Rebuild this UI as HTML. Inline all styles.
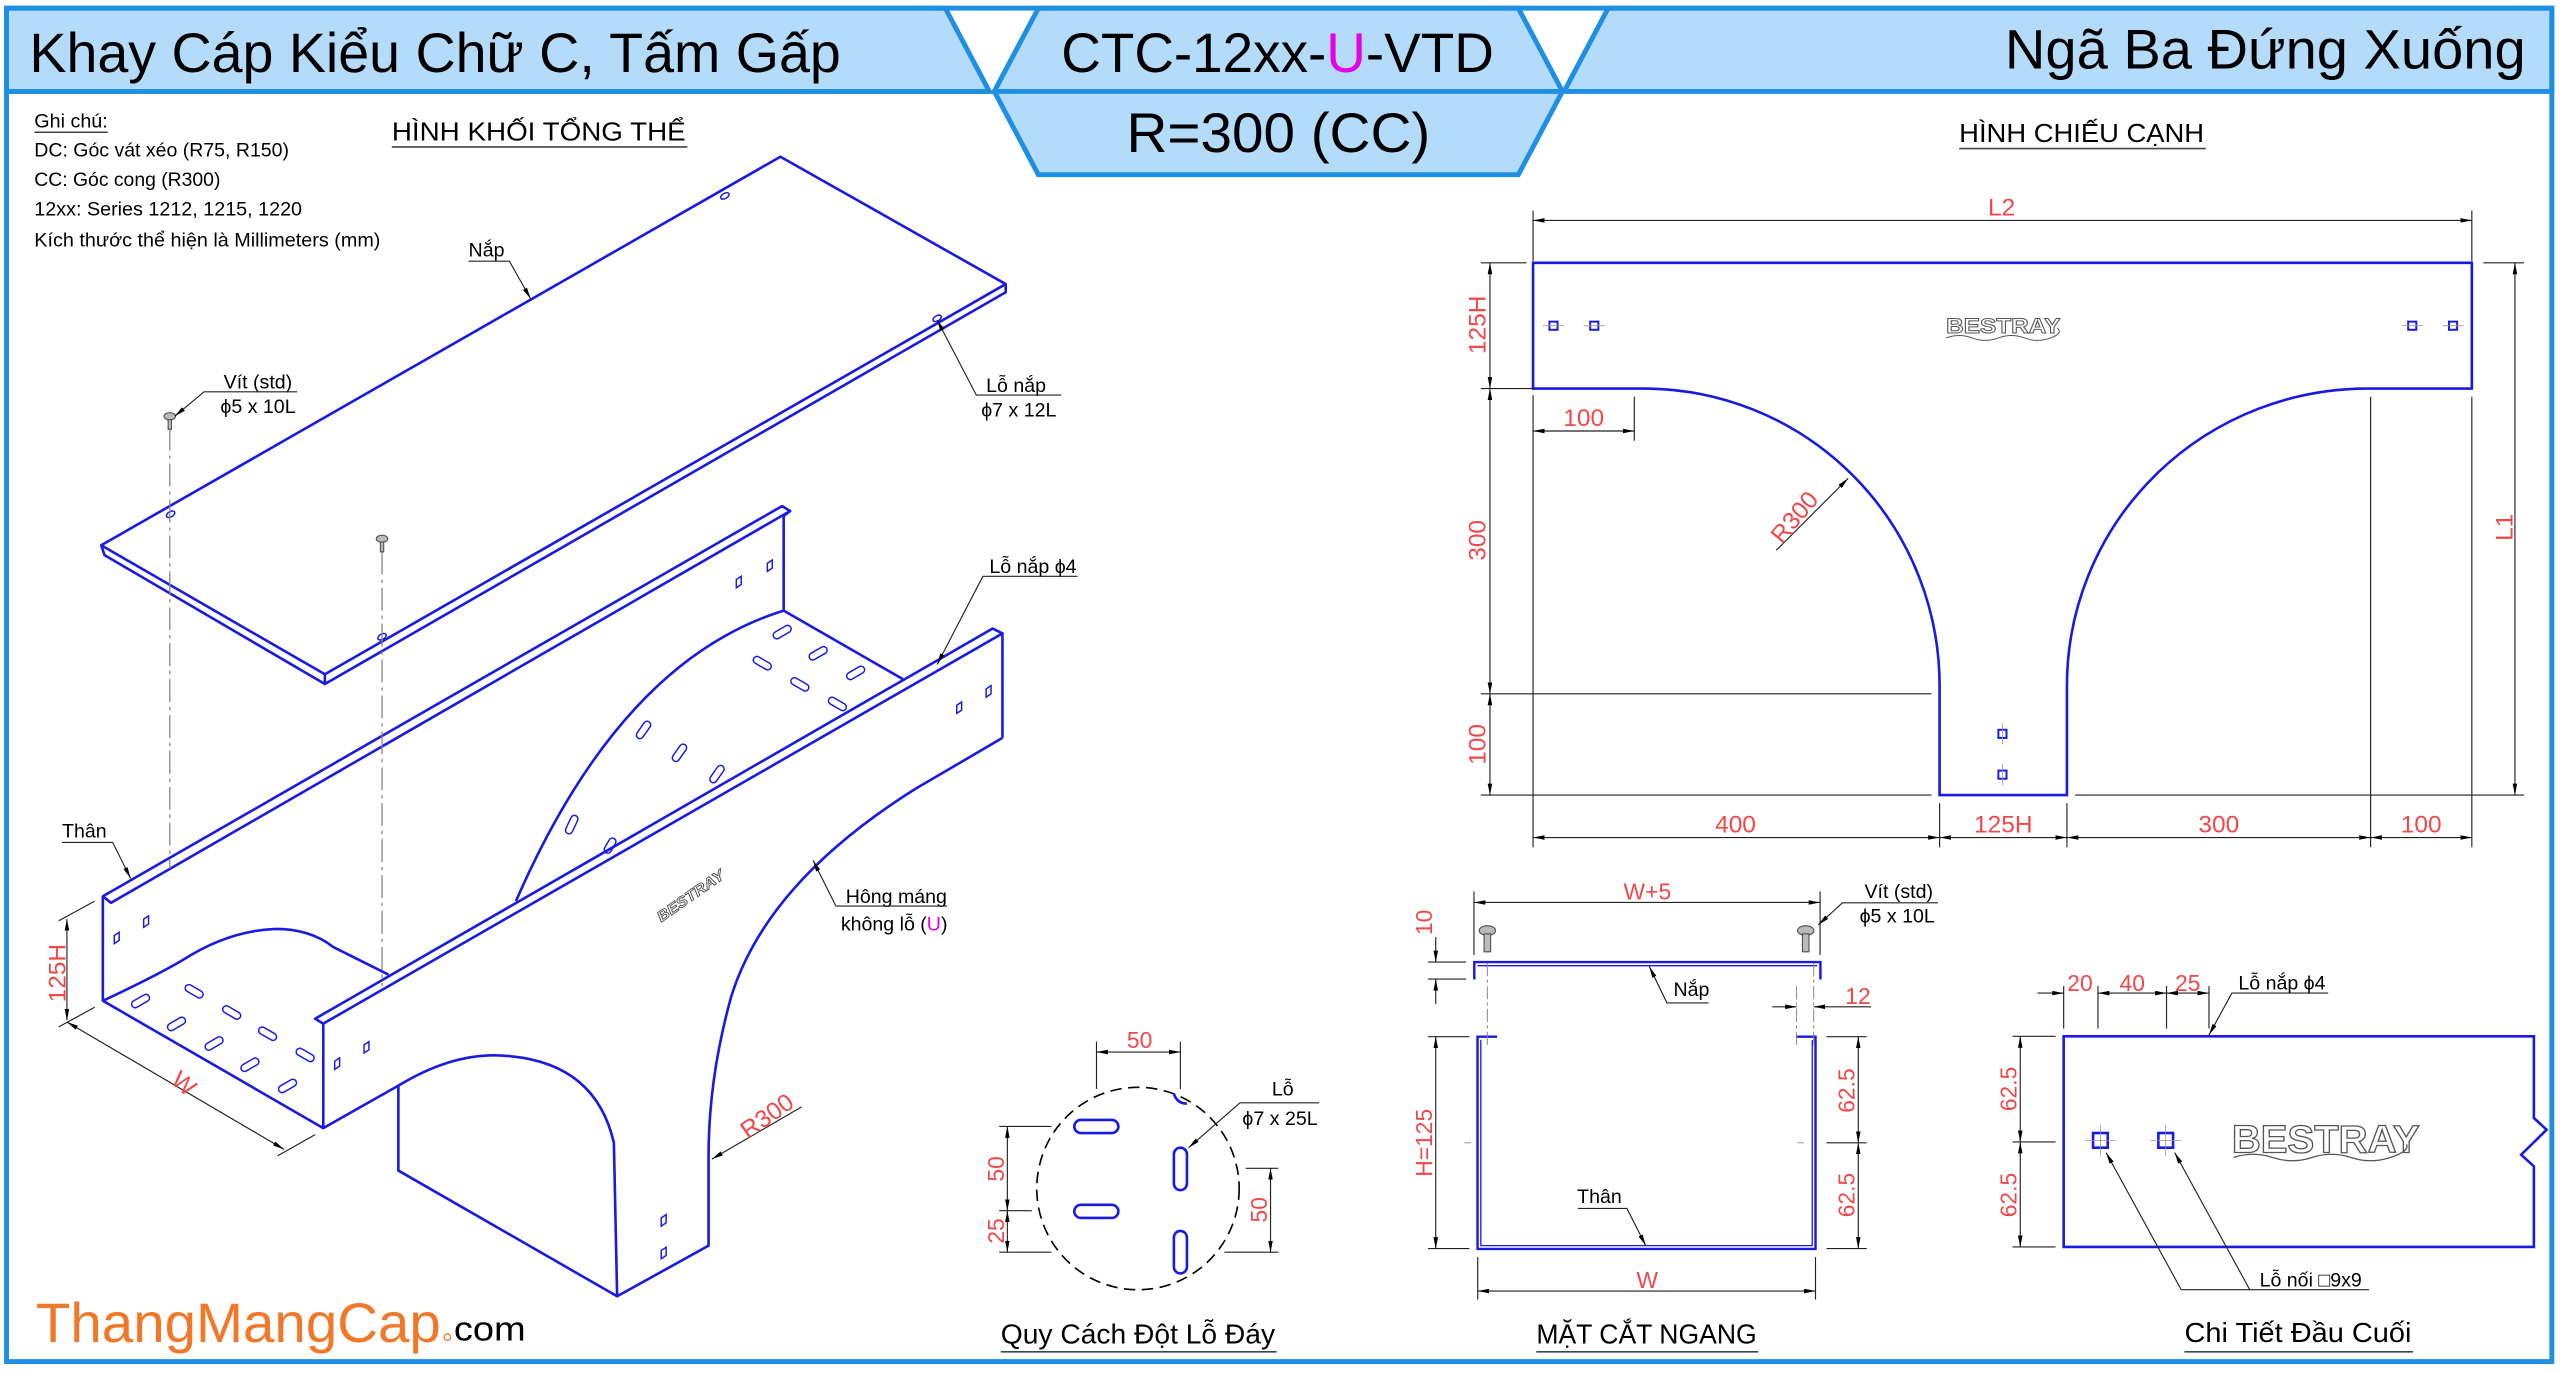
<!DOCTYPE html>
<html><head><meta charset="utf-8"><style>
html,body{margin:0;padding:0;background:#fff;}
svg{display:block;}
text{font-family:"Liberation Sans",sans-serif;}
</style></head><body>
<svg width="2560" height="1373" viewBox="0 0 1568 841" preserveAspectRatio="none" xmlns="http://www.w3.org/2000/svg">
<defs>
<marker id="a" viewBox="0 0 10 4" refX="10" refY="2" markerWidth="7" markerHeight="2.8" markerUnits="userSpaceOnUse" orient="auto-start-reverse"><path d="M0,0L10,2L0,4z" fill="#000"/></marker>
</defs>
<rect x="0" y="0" width="1568" height="841" fill="#fff"/>
<!-- header -->
<g fill="#b4dcfa" stroke="#1e8fe3" stroke-width="3">
<polygon points="4,5 579,5 606,56 4,56"/>
<polygon points="636,5 930,5 957,56 930,107 636,107 609,56"/>
<polygon points="985,5 1563,5 1563,56 958,56"/>
</g>
<line x1="609" y1="56" x2="957" y2="56" stroke="#1e8fe3" stroke-width="3"/>
<rect x="4" y="5" width="1559" height="829" fill="none" stroke="#1e8fe3" stroke-width="3"/>
<line x1="4" y1="56" x2="606" y2="56" stroke="#1e8fe3" stroke-width="3"/>
<text x="18" y="44" font-size="34" textLength="497" lengthAdjust="spacingAndGlyphs">Khay Cáp Kiểu Chữ C, Tấm Gấp</text>
<text x="650" y="44" font-size="34" textLength="265" lengthAdjust="spacingAndGlyphs">CTC-12xx-<tspan fill="#e600e6">U</tspan>-VTD</text>
<text x="690" y="93" font-size="34" textLength="186" lengthAdjust="spacingAndGlyphs">R=300 (CC)</text>
<text x="1228" y="42" font-size="34" textLength="319" lengthAdjust="spacingAndGlyphs">Ngã Ba Đứng Xuống</text>

<!-- notes -->
<g font-size="12">
<text x="21" y="78" textLength="45" lengthAdjust="spacingAndGlyphs">Ghi chú:</text>
<line x1="21" y1="81" x2="66" y2="81" stroke="#000" stroke-width="0.7"/>
<text x="21" y="96" textLength="156" lengthAdjust="spacingAndGlyphs">DC: Góc vát xéo (R75, R150)</text>
<text x="21" y="114" textLength="114" lengthAdjust="spacingAndGlyphs">CC: Góc cong (R300)</text>
<text x="21" y="132" textLength="164" lengthAdjust="spacingAndGlyphs">12xx: Series 1212, 1215, 1220</text>
<text x="21" y="151" textLength="212" lengthAdjust="spacingAndGlyphs">Kích thước thể hiện là Millimeters (mm)</text>
</g>
<text x="240" y="86" font-size="16" textLength="180" lengthAdjust="spacingAndGlyphs">HÌNH KHỐI TỔNG THỂ</text>
<line x1="240" y1="90" x2="421" y2="90" stroke="#444" stroke-width="1"/>
<text x="1200" y="87" font-size="16" textLength="150" lengthAdjust="spacingAndGlyphs">HÌNH CHIẾU CẠNH</text>
<line x1="1200" y1="91" x2="1351" y2="91" stroke="#444" stroke-width="1"/>

<!-- ISO: lid -->
<g fill="none" stroke="#1a1ae0" stroke-width="1.6" stroke-linejoin="round">
<polyline points="62,334 478,96 616,174 616,179 199,419 199,413 62,334 64,340 199,419"/>
<line x1="199" y1="413" x2="616" y2="174"/>
<!-- body -->
<polyline points="63,549 479,310 484,313 68,553 63,549 63,613 198,691 198,627 193,624 608,385 614,388 198,627"/>
<line x1="484" y1="313" x2="480" y2="316"/>
<line x1="480" y1="316" x2="480" y2="374"/>
<line x1="480" y1="374" x2="553" y2="416"/>
<line x1="614" y1="388" x2="614" y2="452"/>
<polyline points="614,452 561,483"/>
<path d="M561,483 Q470,540 448,610 Q434,660 434,708 L434,763 L378,794 L244,717 L244,665"/>
<path d="M480,374 Q380,405 316,552"/>
<polyline points="198,691 244,665"/>
<path d="M244,665 Q280,643 313,647 Q365,652 376,700 L378,794"/>
<path d="M63,613 Q95,598 112,588 Q140,570 169,569 Q190,569 204,580 L238,597"/>
</g>
<!-- lid holes -->
<g fill="none" stroke="#1a1ae0" stroke-width="0.9">
<ellipse cx="444" cy="120" rx="2.8" ry="1.6" transform="rotate(-30 444 120)"/>
<ellipse cx="574" cy="195" rx="2.8" ry="1.6" transform="rotate(-30 574 195)"/>
<ellipse cx="104.5" cy="315" rx="2.8" ry="1.6" transform="rotate(-30 104.5 315)"/>
<ellipse cx="234" cy="390" rx="2.8" ry="1.6" transform="rotate(-30 234 390)"/>
</g>
<!-- floor slots -->
<g fill="none" stroke="#1a1ae0" stroke-width="0.9">
<g transform="rotate(-30 86 613)"><rect x="80" y="611" width="12" height="4.4" rx="2.2"/></g>
<g transform="rotate(30 119 607)"><rect x="113" y="605" width="12" height="4.4" rx="2.2"/></g>
<g transform="rotate(-30 108 627)"><rect x="102" y="625" width="12" height="4.4" rx="2.2"/></g>
<g transform="rotate(30 142 620)"><rect x="136" y="618" width="12" height="4.4" rx="2.2"/></g>
<g transform="rotate(-30 131 639)"><rect x="125" y="637" width="12" height="4.4" rx="2.2"/></g>
<g transform="rotate(30 164 633)"><rect x="158" y="631" width="12" height="4.4" rx="2.2"/></g>
<g transform="rotate(-30 153 652)"><rect x="147" y="650" width="12" height="4.4" rx="2.2"/></g>
<g transform="rotate(30 187 646)"><rect x="181" y="644" width="12" height="4.4" rx="2.2"/></g>
<g transform="rotate(-30 176 665)"><rect x="170" y="663" width="12" height="4.4" rx="2.2"/></g>
<g transform="rotate(-30 479 387)"><rect x="473" y="385" width="12" height="4.4" rx="2.2"/></g>
<g transform="rotate(30 467 406)"><rect x="461" y="404" width="12" height="4.4" rx="2.2"/></g>
<g transform="rotate(-30 501 400)"><rect x="495" y="398" width="12" height="4.4" rx="2.2"/></g>
<g transform="rotate(30 490 419)"><rect x="484" y="417" width="12" height="4.4" rx="2.2"/></g>
<g transform="rotate(-30 524 412)"><rect x="518" y="410" width="12" height="4.4" rx="2.2"/></g>
<g transform="rotate(30 513 431)"><rect x="507" y="429" width="12" height="4.4" rx="2.2"/></g>
<g transform="rotate(-55 394 447)"><rect x="388" y="445" width="12" height="4.4" rx="2.2"/></g>
<g transform="rotate(-55 416 461)"><rect x="410" y="459" width="12" height="4.4" rx="2.2"/></g>
<g transform="rotate(-55 439 474)"><rect x="433" y="472" width="12" height="4.4" rx="2.2"/></g>
<g transform="rotate(-65 350 505)"><rect x="344" y="503" width="12" height="4.4" rx="2.2"/></g>
<g transform="rotate(-60 374 517)"><rect x="368" y="515" width="10" height="4.4" rx="2.2"/></g>
</g>
<!-- side holes -->
<g fill="none" stroke="#1a1ae0" stroke-width="0.9">
<path d="M70,573l3,-2v5l-3,2z"/><path d="M88,563l3,-2v5l-3,2z"/>
<path d="M205,650l3,-2v5l-3,2z"/><path d="M223,640l3,-2v5l-3,2z"/>
<path d="M586,432l3,-2v5l-3,2z"/><path d="M604,422l3,-2v5l-3,2z"/>
<path d="M405,746l3,-2v5l-3,2z"/><path d="M405,766l3,-2v5l-3,2z"/>
<path d="M451,355l3,-2v5l-3,2z"/><path d="M470,345l3,-2v5l-3,2z"/>
</g>
<!-- screws & centerlines -->
<g stroke="#888" stroke-width="0.8" stroke-dasharray="14,3,2,3" fill="none">
<line x1="104" y1="262" x2="104" y2="532"/>
<line x1="234" y1="338" x2="234" y2="604"/>
</g>
<g fill="#bbb" stroke="#555" stroke-width="0.7">
<ellipse cx="104" cy="255" rx="3.5" ry="2.2"/><rect x="103" y="257" width="2" height="6"/>
<ellipse cx="234" cy="330" rx="3.5" ry="2.2"/><rect x="233" y="332" width="2" height="6"/>
</g>
<text transform="translate(405,565) rotate(-35)" font-size="9" font-style="italic" font-weight="bold" fill="#fff" stroke="#444" stroke-width="0.5" textLength="48" lengthAdjust="spacingAndGlyphs">BESTRAY</text>
<!-- iso labels -->
<g font-size="12" fill="#000">
<text x="287" y="157">Nắp</text>
<text x="137" y="238">Vít (std)</text>
<text x="135" y="253">ϕ5 x 10L</text>
<text x="604" y="240">Lỗ nắp</text>
<text x="601" y="255">ϕ7 x 12L</text>
<text x="606" y="351">Lỗ nắp ϕ4</text>
<text x="38" y="513">Thân</text>
<text x="518" y="553">Hông máng</text>
<text x="515" y="570">không lỗ (<tspan fill="#e600e6">U</tspan>)</text>
</g>
<g stroke="#222" stroke-width="0.7" fill="none">
<polyline points="287,160 312,160 325,183" marker-end="url(#a)"/>
<polyline points="182,240 125,240 107,255" marker-end="url(#a)"/>
<polyline points="650,242 598,242 574,196" marker-end="url(#a)"/>
<polyline points="660,353 602,353 574,407" marker-end="url(#a)"/>
<polyline points="38,516 69,516 80,538" marker-end="url(#a)"/>
<polyline points="580,555 512,555 498,527" marker-end="url(#a)"/>
<line x1="491" y1="678" x2="436" y2="710" marker-end="url(#a)"/>
<!-- 125H dim -->
<line x1="58" y1="552" x2="36" y2="564"/>
<line x1="58" y1="617" x2="36" y2="629"/>
<line x1="41" y1="563" x2="41" y2="625" marker-start="url(#a)" marker-end="url(#a)"/>
<line x1="41" y1="626" x2="174" y2="704" marker-start="url(#a)" marker-end="url(#a)"/>
<line x1="193" y1="695" x2="170" y2="708"/>
</g>
<g fill="#f0484a" font-size="15">
<text transform="translate(40,614) rotate(-90)">125H</text>
<text transform="translate(104,663) rotate(40)">W</text>
<text transform="translate(458,698) rotate(-35)">R300</text>
</g>
<text x="22" y="822" font-size="34" fill="#f07828" textLength="248" lengthAdjust="spacingAndGlyphs">ThangMangCap</text>
<circle cx="274" cy="819" r="2" fill="none" stroke="#f07828" stroke-width="0.8"/>
<text x="278" y="821" font-size="21" fill="#000" textLength="44" lengthAdjust="spacingAndGlyphs">com</text>

<!-- SIDE VIEW -->
<g fill="none" stroke="#1a1ae0" stroke-width="1.6">
<path d="M939,238 L939,161 L1514,161 L1514,238 L1451,238 A184,182 0 0 0 1266,420 L1266,487 L1188,487 L1188,420 A181,182 0 0 0 1007,238 Z"/>
</g>
<g fill="none" stroke="#1a1ae0" stroke-width="1.2">
<rect x="949" y="197" width="5" height="5"/><rect x="974" y="197" width="5" height="5"/>
<rect x="1475" y="197" width="5" height="5"/><rect x="1500" y="197" width="5" height="5"/>
<rect x="1224" y="447" width="5" height="5"/><rect x="1224" y="472" width="5" height="5"/>
<rect x="1282" y="694" width="9" height="9" stroke-width="1.6"/><rect x="1322" y="694" width="9" height="9" stroke-width="1.6"/>
</g>
<g stroke="#999" stroke-width="0.5">
<line x1="945" y1="199.5" x2="958" y2="199.5"/><line x1="970" y1="199.5" x2="983" y2="199.5"/>
<line x1="1471" y1="199.5" x2="1484" y2="199.5"/><line x1="1496" y1="199.5" x2="1509" y2="199.5"/>
<line x1="1226.5" y1="443" x2="1226.5" y2="456"/><line x1="1226.5" y1="468" x2="1226.5" y2="481"/>
<line x1="1286.5" y1="689" x2="1286.5" y2="708"/><line x1="1277" y1="698.5" x2="1296" y2="698.5"/>
<line x1="1326.5" y1="689" x2="1326.5" y2="708"/><line x1="1317" y1="698.5" x2="1336" y2="698.5"/>
</g>
<g font-family="Liberation Sans" font-weight="bold" font-size="13" fill="#fff" stroke="#555" stroke-width="0.6">
<text x="1192" y="204" textLength="70" lengthAdjust="spacingAndGlyphs">BESTRAY</text>
<text x="1367" y="706" font-size="24" stroke-width="0.8" textLength="115" lengthAdjust="spacingAndGlyphs">BESTRAY</text>
</g>
<path d="M1192,207 q8,-3 16,0 t16,0 t16,0 t16,0 t4,-6" fill="none" stroke="#555" stroke-width="0.6"/>
<path d="M1368,709 q12,-4 24,0 t24,0 t24,0 t24,0 t10,-8" fill="none" stroke="#555" stroke-width="0.8"/>
<g stroke="#222" stroke-width="0.7" fill="none">
<line x1="939" y1="129" x2="939" y2="160"/><line x1="1514" y1="129" x2="1514" y2="160"/>
<line x1="939" y1="135" x2="1514" y2="135" marker-start="url(#a)" marker-end="url(#a)"/>
<line x1="907" y1="161" x2="935" y2="161"/><line x1="907" y1="238" x2="939" y2="238"/>
<line x1="912.6" y1="161" x2="912.6" y2="238" marker-start="url(#a)" marker-end="url(#a)"/>
<line x1="912.6" y1="238" x2="912.6" y2="425" marker-start="url(#a)" marker-end="url(#a)"/>
<line x1="912.6" y1="425" x2="912.6" y2="487" marker-start="url(#a)" marker-end="url(#a)"/>
<line x1="907" y1="425" x2="1183" y2="425"/>
<line x1="907" y1="487" x2="1183" y2="487"/><line x1="1271" y1="487" x2="1546" y2="487"/>
<line x1="1521" y1="161" x2="1546" y2="161"/>
<line x1="1540.4" y1="161" x2="1540.4" y2="487" marker-start="url(#a)" marker-end="url(#a)"/>
<line x1="939" y1="242" x2="939" y2="519"/><line x1="1001" y1="243" x2="1001" y2="270"/>
<line x1="939" y1="264" x2="1001" y2="264" marker-start="url(#a)" marker-end="url(#a)"/>
<line x1="1188" y1="492" x2="1188" y2="519"/><line x1="1266" y1="492" x2="1266" y2="519"/>
<line x1="1452" y1="243" x2="1452" y2="519"/><line x1="1514" y1="243" x2="1514" y2="519"/>
<line x1="939" y1="513" x2="1188" y2="513" marker-start="url(#a)" marker-end="url(#a)"/>
<line x1="1188" y1="513" x2="1266" y2="513" marker-start="url(#a)" marker-end="url(#a)"/>
<line x1="1266" y1="513" x2="1452" y2="513" marker-start="url(#a)" marker-end="url(#a)"/>
<line x1="1452" y1="513" x2="1514" y2="513" marker-start="url(#a)" marker-end="url(#a)"/>
<line x1="1088" y1="337" x2="1132" y2="293" marker-end="url(#a)"/>
</g>
<g fill="#f0484a" font-size="15" text-anchor="middle">
<text x="1226" y="132">L2</text>
<text x="970" y="261">100</text>
<text x="1063" y="510">400</text>
<text x="1227" y="510">125H</text>
<text x="1359" y="510">300</text>
<text x="1483" y="510">100</text>
<text transform="translate(910,199) rotate(-90)">125H</text>
<text transform="translate(910,331) rotate(-90)">300</text>
<text transform="translate(910,456) rotate(-90)">100</text>
<text transform="translate(1539,323) rotate(-90)">L1</text>
<text transform="translate(1103,320) rotate(-50)">R300</text>
</g>

<!-- HOLE PATTERN -->
<circle cx="697" cy="728" r="62" fill="none" stroke="#000" stroke-width="1" stroke-dasharray="7,4"/>
<g fill="none" stroke="#1a1ae0" stroke-width="1.6">
<rect x="658" y="686" width="27" height="8" rx="4"/>
<rect x="658" y="738" width="27" height="8" rx="4"/>
<rect x="719" y="703" width="8" height="26" rx="4"/>
<rect x="719" y="754" width="8" height="26" rx="4"/>
<path d="M719,670 q2,6 8,6"/>
</g>
<g stroke="#222" stroke-width="0.7" fill="none">
<line x1="671.6" y1="638" x2="671.6" y2="667"/><line x1="723" y1="638" x2="723" y2="667"/>
<line x1="671.6" y1="644.4" x2="723" y2="644.4" marker-start="url(#a)" marker-end="url(#a)"/>
<line x1="612" y1="690" x2="644" y2="690"/><line x1="612" y1="741.6" x2="632" y2="741.6"/><line x1="612" y1="767" x2="644" y2="767"/>
<line x1="617" y1="690" x2="617" y2="741.6" marker-start="url(#a)" marker-end="url(#a)"/>
<line x1="617" y1="741.6" x2="617" y2="767" marker-start="url(#a)" marker-end="url(#a)"/>
<line x1="763" y1="715.6" x2="783" y2="715.6"/><line x1="750" y1="767" x2="783" y2="767"/>
<line x1="778.2" y1="715.6" x2="778.2" y2="767" marker-start="url(#a)" marker-end="url(#a)"/>
<polyline points="808,675.5 759.5,675.5 728,703" marker-end="url(#a)"/>
</g>
<g fill="#f0484a" font-size="14" text-anchor="middle">
<text x="698" y="642">50</text>
<text transform="translate(615,716) rotate(-90)">50</text>
<text transform="translate(615,754) rotate(-90)">25</text>
<text transform="translate(776,741) rotate(-90)">50</text>
</g>
<text x="779" y="671" font-size="12">Lỗ</text>
<text x="761" y="689" font-size="12">ϕ7 x 25L</text>
<text x="613" y="823" font-size="17" textLength="168" lengthAdjust="spacingAndGlyphs">Quy Cách Đột Lỗ Đáy</text>
<line x1="613" y1="828" x2="782" y2="828" stroke="#444" stroke-width="1"/>

<!-- CROSS SECTION -->
<g fill="none" stroke="#1a1ae0" stroke-width="1.5">
<polyline points="903,600 903,589.3 1115,589.3 1115,600"/>
<polyline points="905,591.5 1113,591.5" stroke-width="0.8"/>
<polyline points="917,635 905,635 905,765 1112,765 1112,635 1100,635"/>
<polyline points="907,637 907,763 1110,763 1110,637" stroke-width="0.8"/>
</g>
<g fill="#bbb" stroke="#555" stroke-width="0.7">
<ellipse cx="911" cy="570" rx="5" ry="3"/><rect x="909" y="572" width="4" height="11"/>
<ellipse cx="1106" cy="570" rx="5" ry="3"/><rect x="1104" y="572" width="4" height="11"/>
</g>
<g stroke="#888" stroke-width="0.6" stroke-dasharray="8,2,2,2" fill="none">
<line x1="911" y1="590" x2="911" y2="640"/><line x1="1100.4" y1="604" x2="1100.4" y2="640"/><line x1="1110.9" y1="590" x2="1110.9" y2="640"/>
<line x1="897" y1="700" x2="1120" y2="700" stroke-dasharray="4,200"/>
</g>
<g stroke="#222" stroke-width="0.7" fill="none">
<line x1="902.8" y1="546" x2="902.8" y2="585"/><line x1="1114.8" y1="546" x2="1114.8" y2="585"/>
<line x1="902.8" y1="552.8" x2="1114.8" y2="552.8" marker-start="url(#a)" marker-end="url(#a)"/>
<line x1="874.7" y1="589.3" x2="898" y2="589.3"/><line x1="874.7" y1="599.7" x2="898" y2="599.7"/>
<line x1="879.4" y1="574" x2="879.4" y2="589.3" marker-end="url(#a)"/>
<line x1="879.4" y1="615" x2="879.4" y2="599.7" marker-end="url(#a)"/>
<polyline points="1046.5,614.3 1021,614.3 1010.2,592" marker-end="url(#a)"/>
<polyline points="1187,553 1128.5,553 1113.7,566.5" marker-end="url(#a)"/>
<line x1="1085.5" y1="616.7" x2="1100.4" y2="616.7" marker-end="url(#a)"/>
<line x1="1146" y1="616.7" x2="1110.9" y2="616.7" marker-end="url(#a)"/>
<line x1="874.7" y1="635" x2="900" y2="635"/><line x1="874.7" y1="764.8" x2="900" y2="764.8"/>
<line x1="879.4" y1="635" x2="879.4" y2="764.8" marker-start="url(#a)" marker-end="url(#a)"/>
<line x1="1118.7" y1="635" x2="1143.4" y2="635"/><line x1="1118.7" y1="700" x2="1143.4" y2="700"/><line x1="1118.7" y1="764.8" x2="1143.4" y2="764.8"/>
<line x1="1138.2" y1="635" x2="1138.2" y2="700" marker-start="url(#a)" marker-end="url(#a)"/>
<line x1="1138.2" y1="700" x2="1138.2" y2="764.8" marker-start="url(#a)" marker-end="url(#a)"/>
<line x1="905.1" y1="770" x2="905.1" y2="796"/><line x1="1112" y1="770" x2="1112" y2="796"/>
<line x1="905.1" y1="790.8" x2="1112" y2="790.8" marker-start="url(#a)" marker-end="url(#a)"/>
<polyline points="966.5,740.2 996.5,740.2 1008,763" marker-end="url(#a)"/>
</g>
<g fill="#f0484a" font-size="14" text-anchor="middle">
<text x="1009" y="551">W+5</text>
<text x="1138" y="615">12</text>
<text x="1009" y="789">W</text>
<text transform="translate(877,565) rotate(-90)">10</text>
<text transform="translate(877,700) rotate(-90)">H=125</text>
<text transform="translate(1136,668) rotate(-90)">62.5</text>
<text transform="translate(1136,732) rotate(-90)">62.5</text>
</g>
<g font-size="12">
<text x="1025" y="610">Nắp</text>
<text x="1142" y="550">Vít (std)</text>
<text x="1139" y="565">ϕ5 x 10L</text>
<text x="966" y="737">Thân</text>
</g>
<text x="941" y="823" font-size="17" textLength="135" lengthAdjust="spacingAndGlyphs">MẶT CẮT NGANG</text>
<line x1="941" y1="828" x2="1077" y2="828" stroke="#444" stroke-width="1"/>

<!-- END DETAIL -->
<path d="M1552,684.8 L1552,634.8 L1264,634.8 L1264,763.8 L1552,763.8 L1552,714.4 L1544.2,707.3 L1559.8,692 Z" fill="none" stroke="#1a1ae0" stroke-width="1.6"/>
<g stroke="#222" stroke-width="0.7" fill="none">
<line x1="1264" y1="604" x2="1264" y2="630"/><line x1="1285" y1="604" x2="1285" y2="630"/>
<line x1="1327" y1="604" x2="1327" y2="630"/><line x1="1353" y1="604" x2="1353" y2="630"/>
<line x1="1248" y1="608.3" x2="1264" y2="608.3" marker-end="url(#a)"/>
<line x1="1285" y1="608.3" x2="1327" y2="608.3" marker-start="url(#a)" marker-end="url(#a)"/>
<line x1="1327" y1="608.3" x2="1353" y2="608.3" marker-start="url(#a)" marker-end="url(#a)"/>
<polyline points="1426,608.3 1367,608.3 1353,634" marker-end="url(#a)"/>
<line x1="1232.6" y1="634.8" x2="1259" y2="634.8"/><line x1="1232.6" y1="699.5" x2="1259" y2="699.5"/><line x1="1232.6" y1="763.8" x2="1259" y2="763.8"/>
<line x1="1237.4" y1="634.8" x2="1237.4" y2="699.5" marker-start="url(#a)" marker-end="url(#a)"/>
<line x1="1237.4" y1="699.5" x2="1237.4" y2="763.8" marker-start="url(#a)" marker-end="url(#a)"/>
<polyline points="1451,790 1336,790 1290,706" marker-end="url(#a)"/>
<polyline points="1378,790 1332,706" marker-end="url(#a)"/>
</g>
<g fill="#f0484a" font-size="14" text-anchor="middle">
<text x="1274" y="607">20</text>
<text x="1306" y="607">40</text>
<text x="1340" y="607">25</text>
<text transform="translate(1235,667) rotate(-90)">62.5</text>
<text transform="translate(1235,732) rotate(-90)">62.5</text>
</g>
<text x="1371" y="606" font-size="12">Lỗ nắp ϕ4</text>
<text x="1384" y="788" font-size="12">Lỗ nối □9x9</text>
<text x="1338" y="822" font-size="17" textLength="139" lengthAdjust="spacingAndGlyphs">Chi Tiết Đầu Cuối</text>
<line x1="1338" y1="828" x2="1478" y2="828" stroke="#444" stroke-width="1"/>
</svg>
</body></html>
